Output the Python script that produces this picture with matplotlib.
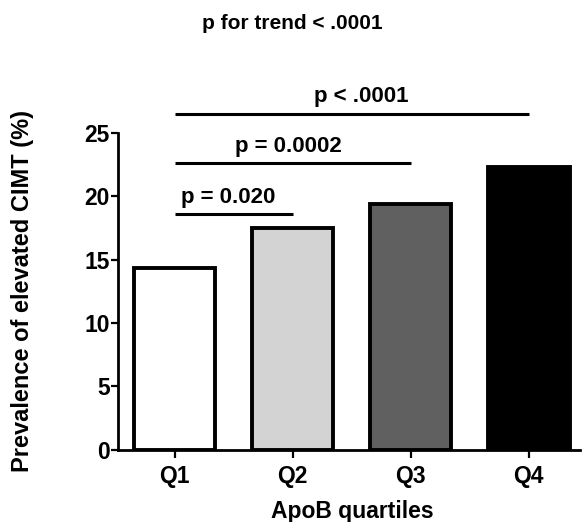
import matplotlib.pyplot as plt

plt.rcParams["font.family"] = ["Liberation Sans", "DejaVu Sans"]
plt.rcParams["font.weight"] = "bold"

quartiles = ["Q1", "Q2", "Q3", "Q4"]
prevalence = [14.35, 17.45, 19.35, 22.3]
bar_colors = ["white", "#d3d3d3", "#606060", "black"]

# comparisons against Q1: (index of other group, line height, label)
comparisons = [
    (1, 18.6, "p = 0.020"),
    (2, 22.6, "p = 0.0002"),
    (3, 26.5, "p < .0001"),
]
label_x = [0.45, 0.96, 1.58]

fig = plt.figure(figsize=(5.85, 5.22), dpi=100)
ax = fig.add_axes([0.2017, 0.138, 0.789, 0.608])

x = range(len(quartiles))
ax.bar(x, prevalence, width=0.69, color=bar_colors, edgecolor="black", linewidth=2.8)

for (j, h, label), lx in zip(comparisons, label_x):
    ax.plot([0, j], [h, h], color="black", linewidth=2.2, clip_on=False,
            solid_capstyle="butt")
    ax.annotate(label, (lx, h), xytext=(0, 8), textcoords="offset points",
                ha="center", va="baseline", fontsize=16, fontweight="bold",
                annotation_clip=False)

ax.set_xlim(-0.48, 3.43)
ax.set_ylim(0, 25)
ax.set_yticks([0, 5, 10, 15, 20, 25])
ax.set_xticks(list(x))
ax.set_xticklabels(quartiles)

ax.spines["top"].set_visible(False)
ax.spines["right"].set_visible(False)
ax.spines["left"].set_linewidth(2)
ax.spines["bottom"].set_linewidth(2)
ax.tick_params(axis="y", width=1.6, length=5, labelsize=16.5, pad=1)
ax.tick_params(axis="x", width=1.6, length=6, labelsize=16.5, pad=5)

ax.set_ylabel("Prevalence of elevated CIMT (%)", fontsize=17, fontweight="bold")
ax.yaxis.set_label_coords(-0.183, 0.5)
ax.set_xlabel("ApoB quartiles", fontsize=16.5, fontweight="bold")
ax.xaxis.set_label_coords(0.507, -0.157)

fig.text(0.5, 0.955, "p for trend < .0001", ha="center", va="center",
         fontsize=15, fontweight="bold")

fig.savefig("out.png", dpi=100)
